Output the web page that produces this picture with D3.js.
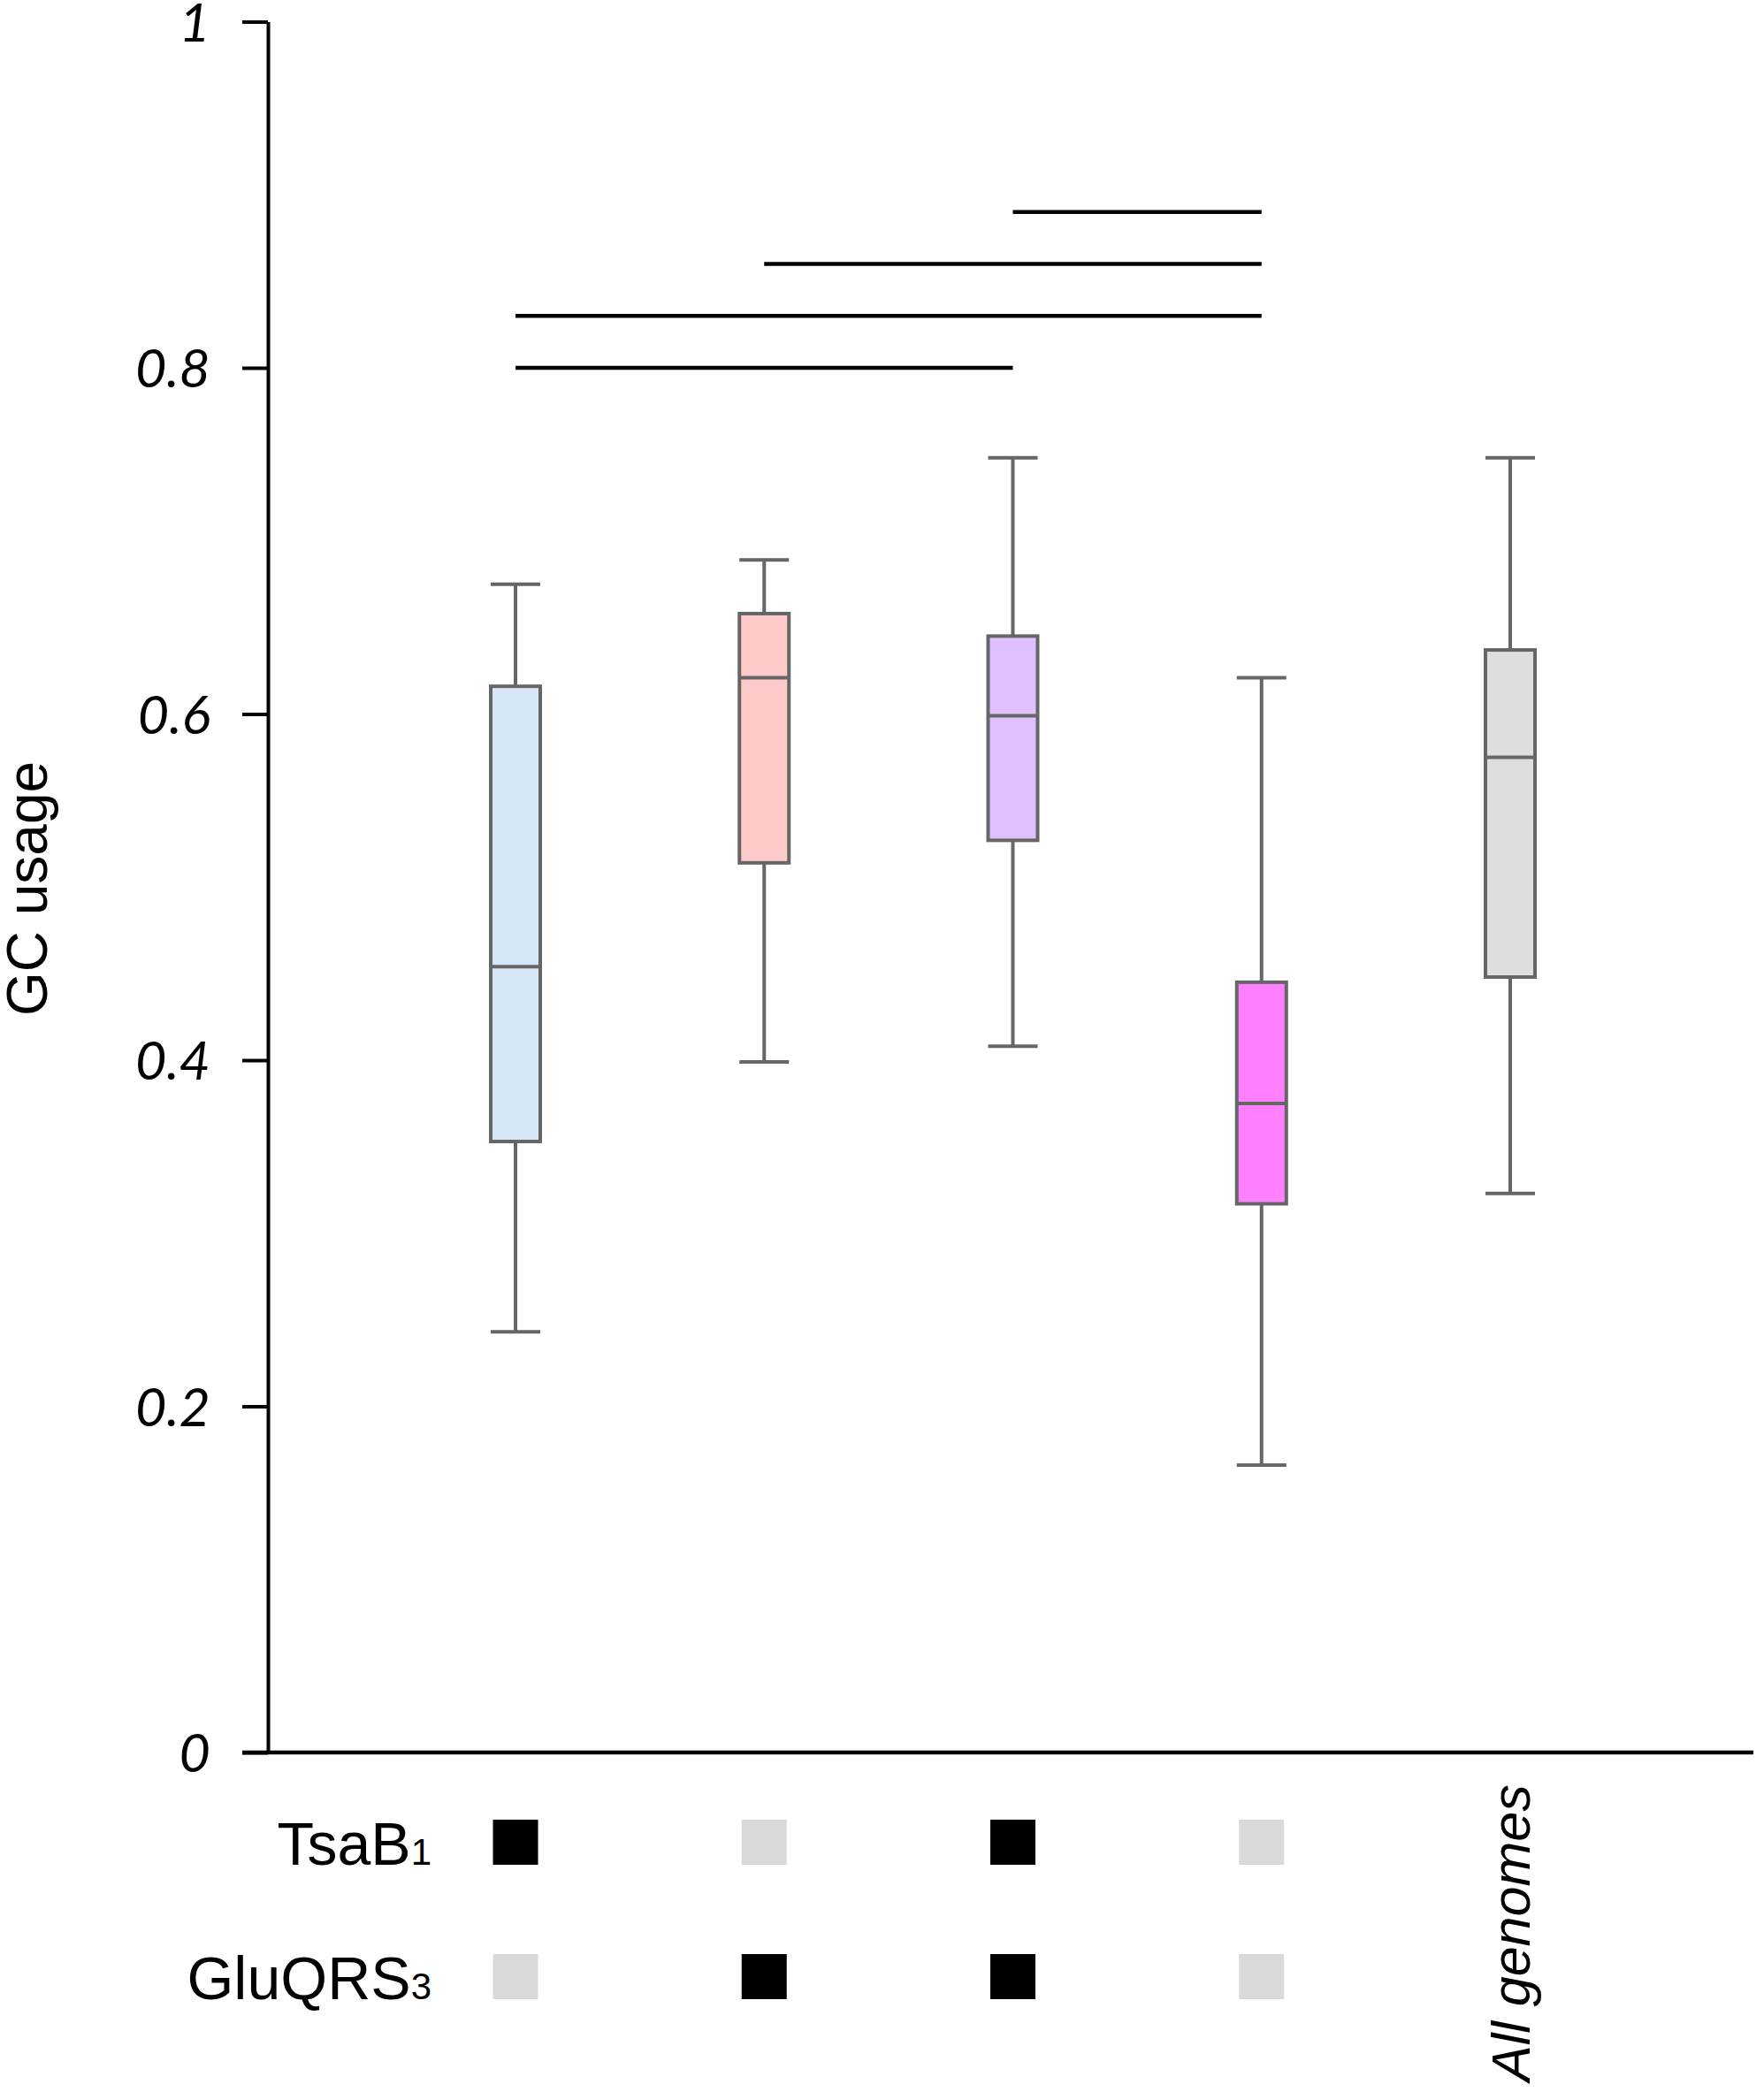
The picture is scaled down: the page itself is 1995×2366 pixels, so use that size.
<!DOCTYPE html>
<html>
<head>
<meta charset="utf-8">
<script src="https://cdn.jsdelivr.net/npm/d3@7"></script>
<style>
  body { margin: 0; background: #fff; }
  text { font-family: "Liberation Sans", Arial, sans-serif; }
</style>
</head>
<body>
<script>
const width = 1995;
const height = 2366;

// box statistics
const groups = ['TsaB1', 'GluQRS3', 'both', 'neither', 'All genomes'];
const whiskerHigh = [0.675, 0.689, 0.748, 0.621, 0.748];
const q3 = [0.616, 0.658, 0.645, 0.445, 0.637];
const median = [0.454, 0.621, 0.599, 0.375, 0.575];
const q1 = [0.353, 0.514, 0.527, 0.317, 0.448];
const whiskerLow = [0.243, 0.399, 0.408, 0.166, 0.323];
const fills = ['#d6e6f6', '#ffcaca', '#e0c0fe', '#ff80ff', '#dedede'];

// significance bars: [from group, to group, y level]
const sigBars = [[2, 3, 0.89], [1, 3, 0.86], [0, 3, 0.83], [0, 2, 0.80]];

// presence matrix under the plot
const rowLabels = [['TsaB', '1'], ['GluQRS', '3']];
const presence = [[1, 0, 1, 0], [0, 1, 1, 0]];

const yTicks = [0, 0.2, 0.4, 0.6, 0.8, 1];

const svg = d3.select('body')
  .append('svg')
  .attr('width', width)
  .attr('height', height);

const y = d3.scaleLinear().domain([0, 1]).range([1982, 24.5]);
const x = d3.scalePoint().domain(d3.range(groups.length)).range([583, 1708]);
const boxW = 56;
const axisX = 303;

// y axis
const yAxis = svg.append('g')
  .attr('transform', `translate(${axisX},0)`)
  .call(d3.axisLeft(y)
    .tickValues(yTicks)
    .tickFormat(d => d3.format('')(d))
    .tickSize(29)
    .tickSizeOuter(0)
    .tickPadding(36));
yAxis.select('.domain').attr('stroke', '#000').attr('stroke-width', 4);
yAxis.selectAll('.tick line').attr('stroke', '#000').attr('stroke-width', 4);
yAxis.selectAll('.tick text')
  .attr('fill', '#000')
  .style('font-family', 'Lato, sans-serif')
  .style('font-style', 'italic')
  .style('font-size', '61px')
  .attr('dy', '0.36em');

// baseline
svg.append('line')
  .attr('x1', 274).attr('x2', 1983)
  .attr('y1', y(0)).attr('y2', y(0))
  .attr('stroke', '#000').attr('stroke-width', 4.5);

svg.append('text')
  .attr('transform', `translate(53,${1005}) rotate(-90)`)
  .attr('text-anchor', 'middle')
  .style('font-size', '64px')
  .text('GC usage');

// boxes
const box = svg.append('g').selectAll('g')
  .data(d3.range(groups.length))
  .join('g')
  .attr('stroke', '#666')
  .attr('stroke-width', 4);

box.append('line')
  .attr('x1', i => x(i)).attr('x2', i => x(i))
  .attr('y1', i => y(whiskerHigh[i])).attr('y2', i => y(whiskerLow[i]));

box.append('line')
  .attr('x1', i => x(i) - boxW / 2).attr('x2', i => x(i) + boxW / 2)
  .attr('y1', i => y(whiskerHigh[i])).attr('y2', i => y(whiskerHigh[i]));

box.append('line')
  .attr('x1', i => x(i) - boxW / 2).attr('x2', i => x(i) + boxW / 2)
  .attr('y1', i => y(whiskerLow[i])).attr('y2', i => y(whiskerLow[i]));

box.append('rect')
  .attr('x', i => x(i) - boxW / 2)
  .attr('width', boxW)
  .attr('y', i => y(q3[i]))
  .attr('height', i => y(q1[i]) - y(q3[i]))
  .attr('fill', i => fills[i]);

box.append('line')
  .attr('x1', i => x(i) - boxW / 2).attr('x2', i => x(i) + boxW / 2)
  .attr('y1', i => y(median[i])).attr('y2', i => y(median[i]));

// significance bars
svg.append('g').selectAll('line')
  .data(sigBars)
  .join('line')
  .attr('x1', d => x(d[0])).attr('x2', d => x(d[1]))
  .attr('y1', d => y(d[2])).attr('y2', d => y(d[2]))
  .attr('stroke', '#000').attr('stroke-width', 4.5);

// presence matrix
const rowY = d3.scalePoint().domain([0, 1]).range([2083.5, 2235.5]);
const sq = 51;

presence.forEach((row, r) => {
  svg.append('g').selectAll('rect')
    .data(row)
    .join('rect')
    .attr('x', (d, i) => x(i) - sq / 2)
    .attr('y', rowY(r) - sq / 2)
    .attr('width', sq).attr('height', sq)
    .attr('fill', d => d ? '#000' : '#d9d9d9');

  const t = svg.append('text')
    .attr('x', 488)
    .attr('y', rowY(r) + 25)
    .attr('text-anchor', 'end')
    .style('font-size', '68px');
  t.append('tspan').text(rowLabels[r][0]);
  t.append('tspan').style('font-size', '42px').text(rowLabels[r][1]);
});

svg.append('text')
  .attr('transform', `translate(1730,2354) rotate(-90)`)
  .style('font-size', '61px')
  .style('font-style', 'italic')
  .text(groups[4]);
</script>
</body>
</html>
